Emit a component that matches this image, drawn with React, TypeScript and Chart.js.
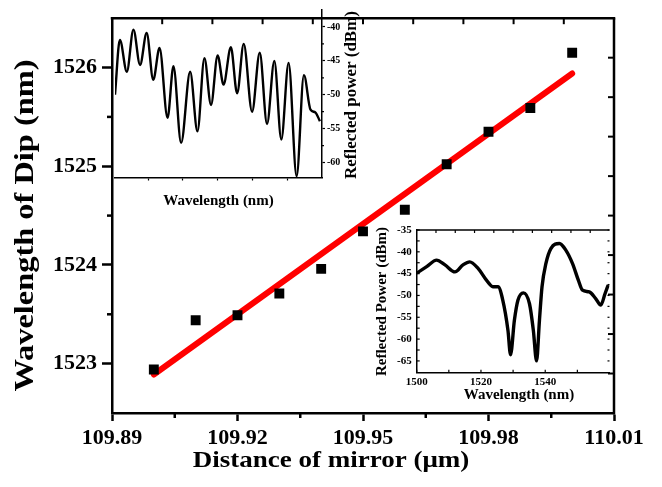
import React, { useEffect, useRef } from 'react';
import { Chart, registerables } from 'chart.js';

Chart.register(...registerables);

const SERIF = "'Liberation Serif', 'Times New Roman', Times, serif";

// ---- main chart data ----
const DISTANCE_UM = [109.9, 109.91, 109.92, 109.93, 109.94, 109.95, 109.96, 109.97, 109.98, 109.99, 110.0];
const DIP_WAVELENGTH_NM = [1522.94, 1523.44, 1523.49, 1523.71, 1523.96, 1524.34, 1524.56, 1525.02, 1525.35, 1525.59, 1526.15];
const FIT_DISTANCE_UM = [109.9, 110.0];
const FIT_WAVELENGTH_NM = [1522.89, 1525.94];
const MAIN_X_TICKS = [109.89, 109.92, 109.95, 109.98, 110.01];
const MAIN_X_MINOR = [109.905, 109.935, 109.965, 109.995];
const MAIN_Y_TICKS = [1523, 1524, 1525, 1526];
const MAIN_Y_MINOR = [1523.5, 1524.5, 1525.5];
const MAIN_TOP_TICKS = [109.902, 109.914, 109.926, 109.938, 109.95, 109.962, 109.974, 109.986, 109.998];
const MAIN_RIGHT_TICKS = [1522.9, 1523.3, 1523.7, 1524.1, 1524.5, 1524.9, 1525.3, 1525.7, 1526.1];

// ---- inset 1 (top-left spectrum) ----
const INSET1_WAVELENGTH = [1520.05, 1520.19, 1520.39, 1520.58, 1520.77, 1520.96, 1521.15, 1521.33, 1521.56, 1521.73, 1521.95, 1522.21, 1522.42, 1522.62, 1522.81, 1523.0, 1523.17, 1523.38, 1523.56, 1523.75, 1523.99, 1524.21, 1524.42, 1524.63, 1524.83, 1525.04, 1525.27, 1525.48, 1525.67, 1525.81, 1525.94];
const INSET1_POWER = [-50.0, -41.9, -46.6, -40.4, -45.6, -40.9, -47.8, -43.1, -53.4, -45.8, -57.1, -46.6, -55.4, -44.6, -51.5, -44.2, -48.5, -43.0, -49.8, -42.5, -52.5, -43.8, -54.3, -45.0, -56.6, -45.3, -62.0, -47.1, -52.2, -52.6, -53.9];
const INSET1_X_TICKS = [1521, 1522, 1523, 1524, 1525];
const INSET1_Y_TICKS = [-60, -55, -50, -45, -40];
const INSET1_Y_MINOR = [-57.5, -52.5, -47.5, -42.5];

// ---- inset 2 (bottom-right spectrum) ----
const INSET2_WAVELENGTH = [1500.0, 1503.1, 1506.2, 1508.8, 1511.9, 1514.4, 1516.5, 1519.1, 1521.7, 1523.7, 1525.3, 1526.8, 1528.4, 1529.2, 1530.4, 1531.5, 1533.2, 1535.1, 1536.3, 1537.3, 1538.2, 1539.0, 1540.2, 1541.8, 1544.4, 1546.4, 1548.5, 1550.3, 1551.6, 1553.7, 1555.7, 1557.3, 1558.6, 1559.6];
const INSET2_POWER = [-44.9, -43.4, -41.9, -43.0, -44.6, -43.0, -42.3, -43.8, -46.5, -48.0, -48.0, -51.1, -58.0, -63.6, -55.7, -51.1, -49.4, -51.9, -58.0, -65.0, -55.7, -48.0, -42.7, -39.2, -38.1, -39.6, -42.7, -46.5, -48.8, -49.2, -50.7, -52.2, -49.6, -47.6];
const INSET2_X_TICKS = [1500, 1520, 1540];
const INSET2_X_MINOR = [1510, 1530, 1550];
const INSET2_TOP_TICKS = [1506, 1512, 1518, 1524, 1530, 1536, 1542, 1548, 1554];
const INSET2_Y_TICKS = [-65, -60, -55, -50, -45, -40, -35];
const INSET2_Y_MINOR = [-62.5, -57.5, -52.5, -47.5, -42.5, -37.5];

function seg(ctx: CanvasRenderingContext2D, x1: number, y1: number, x2: number, y2: number, w: number) {
  ctx.beginPath();
  ctx.lineWidth = w;
  ctx.strokeStyle = '#000';
  ctx.moveTo(x1, y1);
  ctx.lineTo(x2, y2);
  ctx.stroke();
}

function drawText(ctx: CanvasRenderingContext2D, text: string, x: number, y: number, font: string, rot: number, stretch: number) {
  ctx.save();
  ctx.translate(x, y);
  ctx.rotate(rot);
  ctx.scale(stretch, 1);
  ctx.font = font;
  ctx.fillStyle = '#000';
  ctx.textAlign = 'center';
  ctx.textBaseline = 'middle';
  ctx.fillText(text, 0, 0);
  ctx.restore();
}

const setTicks = (vals: number[]) => (s: any) => {
  s.ticks = vals.map((value) => ({ value }));
};

function mainConfig(): any {
  const decor = {
    id: 'mainDecor',
    afterDraw(chart: any) {
      const ctx = chart.ctx as CanvasRenderingContext2D;
      const a = chart.chartArea;
      const xs = chart.scales.x;
      const ys = chart.scales.y;
      ctx.save();
      seg(ctx, a.left - 1.25, a.top, a.right + 1.25, a.top, 2.5);
      seg(ctx, a.right, a.top, a.right, a.bottom + 1.25, 2.5);
      MAIN_TOP_TICKS.forEach((v) => {
        const px = xs.getPixelForValue(v);
        seg(ctx, px, a.top, px, a.top + 6, 2);
      });
      MAIN_RIGHT_TICKS.forEach((v) => {
        const py = ys.getPixelForValue(v);
        seg(ctx, a.right, py, a.right - 6, py, 2);
      });
      MAIN_X_MINOR.forEach((v) => {
        const px = xs.getPixelForValue(v);
        seg(ctx, px, a.bottom, px, a.bottom + 5, 2.5);
      });
      MAIN_Y_MINOR.forEach((v) => {
        const py = ys.getPixelForValue(v);
        seg(ctx, a.left, py, a.left - 5, py, 2.5);
      });
      drawText(ctx, 'Distance of mirror (\u03bcm)', 331, 461, `bold 23px ${SERIF}`, 0, 1.175);
      drawText(ctx, 'Wavelength of Dip (nm)', 26.5, 225.5, `bold 27px ${SERIF}`, -Math.PI / 2, 1.2);
      ctx.restore();
    },
  };
  const tickFont = { family: SERIF, size: 22, weight: 'bold' };
  return {
    type: 'scatter',
    data: {
      datasets: [
        {
          label: 'Dip',
          data: DISTANCE_UM.map((x, i) => ({ x, y: DIP_WAVELENGTH_NM[i] })),
          pointStyle: 'rect',
          pointRadius: 7,
          pointBackgroundColor: '#000',
          pointBorderColor: '#000',
          pointBorderWidth: 0,
          showLine: false,
        },
        {
          label: 'Fit',
          data: FIT_DISTANCE_UM.map((x, i) => ({ x, y: FIT_WAVELENGTH_NM[i] })),
          showLine: true,
          borderColor: '#ff0000',
          borderWidth: 6,
          borderCapStyle: 'round',
          pointRadius: 0,
        },
      ],
    },
    options: {
      responsive: false,
      animation: false,
      devicePixelRatio: 1,
      layout: { padding: { top: 5, right: 48, left: 0, bottom: 0 } },
      plugins: { legend: { display: false }, tooltip: { enabled: false } },
      scales: {
        x: {
          type: 'linear',
          min: 109.89,
          max: 110.01,
          afterBuildTicks: setTicks(MAIN_X_TICKS),
          afterFit: (s: any) => {
            s.height = 74;
          },
          ticks: {
            color: '#000',
            font: tickFont,
            padding: 4,
            maxRotation: 0,
            autoSkip: false,
            callback: (v: any) => Number(v).toFixed(2),
          },
          grid: { display: true, drawOnChartArea: false, tickLength: 8, tickWidth: 2.5, tickColor: '#000' },
          border: { display: true, color: '#000', width: 2.5 },
        },
        y: {
          type: 'linear',
          min: 1522.5,
          max: 1526.5,
          afterBuildTicks: setTicks(MAIN_Y_TICKS),
          afterFit: (s: any) => {
            s.width = 112;
          },
          ticks: {
            color: '#000',
            font: tickFont,
            padding: 5,
            autoSkip: false,
            callback: (v: any) => String(v),
          },
          grid: { display: true, drawOnChartArea: false, tickLength: 10, tickWidth: 2.5, tickColor: '#000' },
          border: { display: true, color: '#000', width: 2.5 },
        },
      },
    },
    plugins: [decor],
  };
}

function inset1Config(): any {
  const decor = {
    id: 'inset1Decor',
    afterDraw(chart: any) {
      const ctx = chart.ctx as CanvasRenderingContext2D;
      const a = chart.chartArea;
      const ys = chart.scales.y;
      ctx.save();
      INSET1_Y_MINOR.forEach((v) => {
        const py = ys.getPixelForValue(v);
        seg(ctx, a.right, py, a.right + 2, py, 1.2);
      });
      drawText(ctx, 'Reflected power (dBm)', 241.5, 95, `bold 17px ${SERIF}`, -Math.PI / 2, 1.0);
      drawText(ctx, 'Wavelength (nm)', 108.5, 201.5, `bold 15px ${SERIF}`, 0, 1.0);
      ctx.restore();
    },
  };
  return {
    type: 'scatter',
    data: {
      datasets: [
        {
          data: INSET1_WAVELENGTH.map((x, i) => ({ x, y: INSET1_POWER[i] })),
          showLine: true,
          borderColor: '#000',
          borderWidth: 2.4,
          cubicInterpolationMode: 'monotone',
          pointRadius: 0,
        },
      ],
    },
    options: {
      responsive: false,
      animation: false,
      devicePixelRatio: 1,
      layout: { padding: { top: 10, left: 5, right: 0, bottom: 0 } },
      plugins: { legend: { display: false }, tooltip: { enabled: false } },
      scales: {
        x: {
          type: 'linear',
          min: 1520.05,
          max: 1526,
          afterBuildTicks: setTicks(INSET1_X_TICKS),
          afterFit: (s: any) => {
            s.height = 37.5;
          },
          ticks: { display: false },
          grid: { display: true, drawOnChartArea: false, tickLength: 3, tickWidth: 1.2, tickColor: '#000' },
          border: { display: true, color: '#000', width: 1.5 },
        },
        y: {
          type: 'linear',
          position: 'right',
          min: -62.2,
          max: -37.5,
          afterBuildTicks: setTicks(INSET1_Y_TICKS),
          afterFit: (s: any) => {
            s.width = 53;
          },
          ticks: {
            color: '#000',
            font: { family: SERIF, size: 10, weight: 'bold' },
            padding: 2,
            autoSkip: false,
            callback: (v: any) => String(v),
          },
          grid: { display: true, drawOnChartArea: false, tickLength: 3, tickWidth: 1.2, tickColor: '#000' },
          border: { display: true, color: '#000', width: 1.5 },
        },
      },
    },
    plugins: [decor],
  };
}

function inset2Config(): any {
  const decor = {
    id: 'inset2Decor',
    afterDraw(chart: any) {
      const ctx = chart.ctx as CanvasRenderingContext2D;
      const a = chart.chartArea;
      const xs = chart.scales.x;
      const ys = chart.scales.y;
      ctx.save();
      seg(ctx, a.left, a.top, a.right, a.top, 1.5);
      [...INSET2_X_TICKS, ...INSET2_X_MINOR].forEach((v) => {
        const px = xs.getPixelForValue(v);
        seg(ctx, px, a.bottom, px, a.bottom - 3, 1.2);
      });
      INSET2_TOP_TICKS.forEach((v) => {
        const px = xs.getPixelForValue(v);
        seg(ctx, px, a.top, px, a.top + 3, 1.2);
      });
      [...INSET2_Y_TICKS, ...INSET2_Y_MINOR].forEach((v) => {
        const py = ys.getPixelForValue(v);
        seg(ctx, a.left, py, a.left + 3, py, 1.2);
        seg(ctx, a.right, py, a.right - 2, py, 1.2);
      });
      drawText(ctx, 'Reflected Power (dBm)', 16.7, 86.5, `bold 15px ${SERIF}`, -Math.PI / 2, 1.0);
      drawText(ctx, 'Wavelength (nm)', 154, 180, `bold 15px ${SERIF}`, 0, 1.0);
      ctx.restore();
    },
  };
  return {
    type: 'scatter',
    data: {
      datasets: [
        {
          data: INSET2_WAVELENGTH.map((x, i) => ({ x, y: INSET2_POWER[i] })),
          showLine: true,
          borderColor: '#000',
          borderWidth: 3.4,
          cubicInterpolationMode: 'monotone',
          pointRadius: 0,
        },
      ],
    },
    options: {
      responsive: false,
      animation: false,
      devicePixelRatio: 1,
      layout: { padding: { top: 15, left: 0, right: 10.5, bottom: 0 } },
      plugins: { legend: { display: false }, tooltip: { enabled: false } },
      scales: {
        x: {
          type: 'linear',
          min: 1500,
          max: 1560,
          afterBuildTicks: setTicks(INSET2_X_TICKS),
          afterFit: (s: any) => {
            s.height = 37.3;
          },
          ticks: {
            color: '#000',
            font: { family: SERIF, size: 11, weight: 'bold' },
            padding: 3,
            maxRotation: 0,
            autoSkip: false,
            callback: (v: any) => String(v),
          },
          grid: { display: false, drawTicks: false },
          border: { display: true, color: '#000', width: 1.5 },
        },
        y: {
          type: 'linear',
          min: -67.7,
          max: -35,
          afterBuildTicks: setTicks(INSET2_Y_TICKS),
          afterFit: (s: any) => {
            s.width = 51.7;
          },
          ticks: {
            color: '#000',
            font: { family: SERIF, size: 11, weight: 'bold' },
            padding: 5,
            autoSkip: false,
            callback: (v: any) => String(v),
          },
          grid: { display: false, drawTicks: false },
          border: { display: true, color: '#000', width: 1.5 },
        },
      },
    },
    plugins: [decor],
  };
}

export default function App() {
  const mainRef = useRef<HTMLCanvasElement>(null);
  const in1Ref = useRef<HTMLCanvasElement>(null);
  const in2Ref = useRef<HTMLCanvasElement>(null);

  useEffect(() => {
    const charts = [
      new Chart(mainRef.current as HTMLCanvasElement, mainConfig()),
      new Chart(in1Ref.current as HTMLCanvasElement, inset1Config()),
      new Chart(in2Ref.current as HTMLCanvasElement, inset2Config()),
    ];
    return () => charts.forEach((c) => c.destroy());
  }, []);

  return (
    <div style={{ position: 'absolute', left: 0, top: 0, width: 662, height: 487, background: '#fff', overflow: 'hidden' }}>
      <canvas ref={mainRef} width={662} height={487} style={{ position: 'absolute', left: 0, top: 0 }} />
      <canvas ref={in1Ref} width={265} height={215} style={{ position: 'absolute', left: 110, top: 0 }} />
      <canvas ref={in2Ref} width={255} height={195} style={{ position: 'absolute', left: 365, top: 215 }} />
    </div>
  );
}
